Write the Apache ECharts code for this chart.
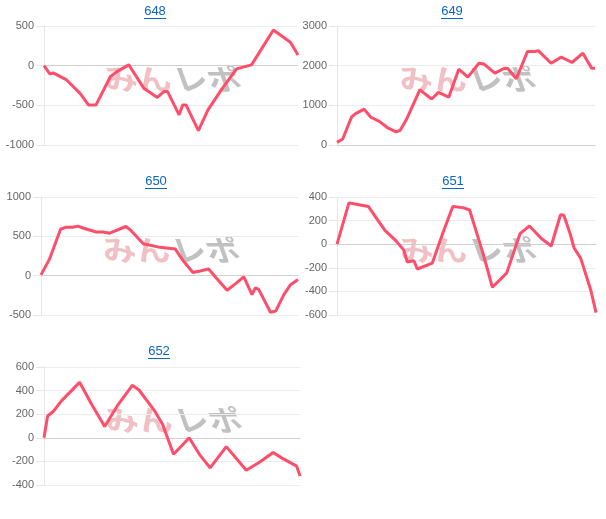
<!DOCTYPE html>
<html>
<head>
<meta charset="utf-8">
<script src="https://cdn.jsdelivr.net/npm/echarts@6/dist/echarts.min.js"></script>
<style>
  html, body { margin: 0; padding: 0; background: #fff; }
  #main { width: 606px; height: 519px; }
</style>
</head>
<body>
<div id="main"></div>
<script>
// 台番号
const titles = ['648', '649', '650', '651', '652']

// 差枚グラフ（x: 進行率, y: 差枚）
const x648 = [0, 2.3, 3.6, 8.9, 14.2, 17.5, 20.5, 26.1, 28.7, 33.4, 39.3, 44.6, 47.3, 48.6, 53.2, 54.6, 55.9, 60.8, 64.5, 69.8, 75.8, 81.7, 90.3, 97.0, 100]
const y648 = [0, -105, -90, -180, -350, -495, -495, -140, -75, 10, -285, -400, -325, -325, -620, -495, -495, -820, -560, -305, -40, 10, 450, 295, 135]

const x649 = [0, 2.2, 5.6, 7.2, 10.5, 13.1, 16.4, 19.7, 22.9, 24.5, 26.9, 32.1, 36.7, 39.3, 43.3, 47.2, 50.7, 55.0, 57.0, 61.2, 64.9, 66.2, 69.5, 73.8, 76.7, 78.0, 83.0, 86.9, 91.1, 95.3, 98.7, 100]
const y649 = [67, 150, 700, 790, 905, 700, 595, 430, 330, 370, 640, 1390, 1160, 1325, 1205, 1910, 1710, 2060, 2040, 1810, 1935, 1930, 1670, 2355, 2355, 2380, 2060, 2215, 2080, 2315, 1935, 1935]

const x650 = [0, 3.3, 7.6, 9.5, 12.4, 14.3, 16.9, 21.5, 24.1, 26.7, 33.0, 34.8, 39.8, 46.3, 52.2, 55.1, 59.1, 61.9, 65.2, 68.2, 72.4, 75.6, 78.9, 82.1, 83.4, 84.7, 89.3, 91.3, 94.5, 97.1, 100]
const y650 = [10, 210, 590, 615, 615, 630, 600, 555, 555, 540, 625, 580, 405, 360, 340, 200, 40, 60, 85, -30, -185, -105, -15, -240, -155, -175, -465, -450, -240, -115, -50]

const x651 = [0, 4.6, 6.9, 12.1, 15.4, 18.6, 22.5, 25.8, 27.1, 29.7, 31.0, 36.8, 40.8, 44.7, 48.6, 51.2, 56.4, 60.0, 65.5, 70.7, 74.3, 78.8, 82.7, 86.3, 87.6, 90.2, 91.5, 94.1, 98.0, 100]
const y651 = [0, 350, 340, 320, 215, 115, 35, -50, -150, -140, -210, -160, 90, 320, 310, 290, -80, -365, -245, 90, 155, 50, -15, 250, 245, 75, -30, -120, -390, -580]

const x652 = [0, 1.4, 3.7, 6.9, 13.9, 18.7, 23.7, 28.6, 34.5, 37.1, 43.0, 46.3, 50.6, 53.9, 56.7, 60.7, 64.9, 71.2, 79.0, 84.3, 89.5, 92.8, 98.7, 100]
const y652 = [0, 185, 225, 315, 470, 280, 95, 270, 445, 405, 235, 115, -140, -65, 0, -140, -255, -75, -275, -205, -125, -170, -240, -325]

// y軸の範囲
const yMin = [-1000, 0, -500, -600, -400]
const yMax = [500, 3000, 1000, 400, 600]
const yStep = [500, 1000, 500, 200, 200]

const xs = [x648, x649, x650, x651, x652]
const ys = [y648, y649, y650, y651, y652]

// 各グラフの配置
const boxes = [
  { left: 44, top: 26, width: 254, height: 119, tx: 155, ty: 11 },
  { left: 337, top: 26, width: 258, height: 119, tx: 452, ty: 11 },
  { left: 41, top: 197, width: 257, height: 118, tx: 156, ty: 181 },
  { left: 337, top: 197, width: 259, height: 118, tx: 453, ty: 181 },
  { left: 44, top: 367, width: 256, height: 118, tx: 159, ty: 351 }
]

const chart = echarts.init(document.getElementById('main'))

const grid = [], xAxis = [], yAxis = [], series = [], graphic = []

boxes.forEach((b, i) => {
  grid.push({ left: b.left, top: b.top, width: b.width, height: b.height })
  xAxis.push({
    type: 'value', gridIndex: i, min: 0, max: 100,
    axisLabel: { show: false }, axisTick: { show: false },
    splitLine: { show: false },
    axisLine: { show: true, onZero: true, lineStyle: { color: '#d0d0d0', width: 1 } }
  })
  yAxis.push({
    type: 'value', gridIndex: i, min: yMin[i], max: yMax[i], interval: yStep[i],
    axisLabel: {
      color: '#666', fontSize: 11, margin: 10,
      fontFamily: 'Arial, Liberation Sans, sans-serif',
      formatter: v => String(v)
    },
    axisTick: { show: true, length: 8, lineStyle: { color: '#e6e6e6' } },
    axisLine: { show: true, lineStyle: { color: '#e6e6e6' } },
    splitLine: { lineStyle: { color: '#ececec' } }
  })
  series.push({
    type: 'line', xAxisIndex: i, yAxisIndex: i,
    data: xs[i].map((x, k) => [x, ys[i][k]]),
    showSymbol: false, z: 5,
    lineStyle: { color: '#ff4d6a', width: 3 },
    itemStyle: { color: '#ff4d6a' }
  })

  // タイトル（リンク風）
  graphic.push({
    type: 'text', x: b.tx, y: b.ty,
    style: { text: titles[i], align: 'center', verticalAlign: 'middle', fill: '#0b66c3', font: '13px Arial, Liberation Sans, sans-serif' }
  })
  graphic.push({
    type: 'line',
    shape: { x1: b.tx - 11, y1: b.ty + 7.5, x2: b.tx + 11, y2: b.ty + 7.5 },
    style: { stroke: '#0b66c3', lineWidth: 1 }
  })

  // 透かしロゴ
  const cx = b.left + b.width / 2
  const cy = b.top + 53
  graphic.push({
    type: 'text', x: cx - 1, y: cy, z: 0, skewX: 0.35, scaleX: 1.15,
    style: { text: 'みん', align: 'right', verticalAlign: 'middle', fill: 'rgba(230,150,158,0.6)', font: 'bold 29px "Noto Sans CJK JP", sans-serif' }
  })
  graphic.push({
    type: 'text', x: cx + 3, y: cy, z: 0, skewX: 0.35, scaleX: 1.15,
    style: { text: 'レポ', align: 'left', verticalAlign: 'middle', fill: 'rgba(160,160,160,0.65)', font: 'bold 29px "Noto Sans CJK JP", sans-serif' }
  })
})

chart.setOption({
  animation: false,
  grid, xAxis, yAxis, series, graphic
})

window.addEventListener('resize', () => chart.resize())
</script>
</body>
</html>
